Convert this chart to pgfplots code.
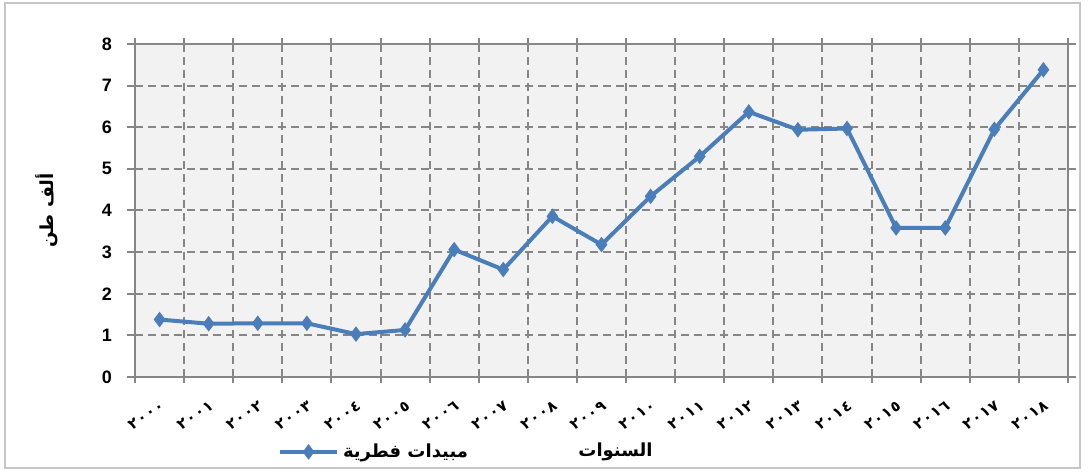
\documentclass[border=0pt]{standalone}
\usepackage{pgfplots}
\pgfplotsset{compat=1.18}
\usepackage{fontspec}
\setmainfont{Liberation Sans}
\TeXXeTstate=1
\newfontfamily\arabicfont[Script=Arabic]{DejaVu Sans}
\newfontfamily\digitfont[LetterSpace=8]{DejaVu Sans}
\definecolor{lineblue}{RGB}{74,126,187}
\definecolor{gridgray}{RGB}{134,134,134}
\definecolor{plotbg}{RGB}{242,242,242}
\begin{document}
\begin{tikzpicture}
\useasboundingbox (-67.5pt,-48.5pt) rectangle (476.5pt,188.5pt);
\begin{axis}[
  width=466.5pt, height=166.5pt, scale only axis,
  xmin=-0.5, xmax=18.5, ymin=0, ymax=8,
  xtick={0,...,18},
  xticklabels={٢٠٠٠,٢٠٠١,٢٠٠٢,٢٠٠٣,٢٠٠٤,٢٠٠٥,٢٠٠٦,٢٠٠٧,٢٠٠٨,٢٠٠٩,٢٠١٠,٢٠١١,٢٠١٢,٢٠١٣,٢٠١٤,٢٠١٥,٢٠١٦,٢٠١٧,٢٠١٨},
  minor xtick={-0.5,0.5,...,18.5},
  ytick={0,...,8},
  /pgf/number format/assume math mode=true,
  xminorgrids, ymajorgrids,
  major grid style={gridgray, line width=1pt, dash pattern=on 4pt off 2.5pt},
  minor grid style={gridgray, line width=1pt, dash pattern=on 4pt off 2.5pt},
  axis background/.style={fill=plotbg},
  axis line style={gridgray, line width=1pt},
  every major x tick/.style={draw=none},
  tick align=outside, major tick length=4pt, minor tick length=3pt,
  tick style={gridgray, line width=1pt},
  yticklabel style={font=\fontsize{9}{10}\selectfont\bfseries, xshift=-4pt},
  xticklabel style={rotate=35, anchor=north east, font=\digitfont\bfseries\fontsize{7.5}{9}\selectfont, yshift=-5pt, xshift=-3pt, inner sep=1pt},
  ylabel={\arabicfont\bfseries\beginR ألف طن\endR},
  ylabel style={at={(axis description cs:-0.095,0.5)}, anchor=center, font=\fontsize{9}{10}\selectfont},
  xlabel={\arabicfont\bfseries\beginR السنوات\endR},
  xlabel style={at={(axis description cs:0.515,-0.225)}, anchor=center, font=\fontsize{9}{10}\selectfont},
  legend style={at={(axis description cs:0.153,-0.225)}, anchor=west, draw=none, fill=none, font=\fontsize{9}{10}\selectfont, inner sep=0pt},
  legend image code/.code={\draw[mark repeat=2,mark phase=2] plot coordinates {(0cm,0cm) (0.5cm,0cm) (1cm,0cm)};},
  clip=false,
]
\addplot[lineblue, line width=2pt, mark=diamond*, mark size=3.5pt, mark options={solid, fill=lineblue, line width=0.5pt}] coordinates {
(0,1.38) (1,1.28) (2,1.29) (3,1.29) (4,1.03) (5,1.13) (6,3.06) (7,2.58) (8,3.86) (9,3.18) (10,4.34) (11,5.30) (12,6.37) (13,5.94) (14,5.97) (15,3.58) (16,3.58) (17,5.95) (18,7.38)
};
\addlegendentry{\arabicfont\bfseries\beginR مبيدات فطرية\endR}
\end{axis}
\draw[gray!45, line width=1pt] (-65pt,-45.5pt) rectangle (472.5pt,187pt);
\end{tikzpicture}
\end{document}
